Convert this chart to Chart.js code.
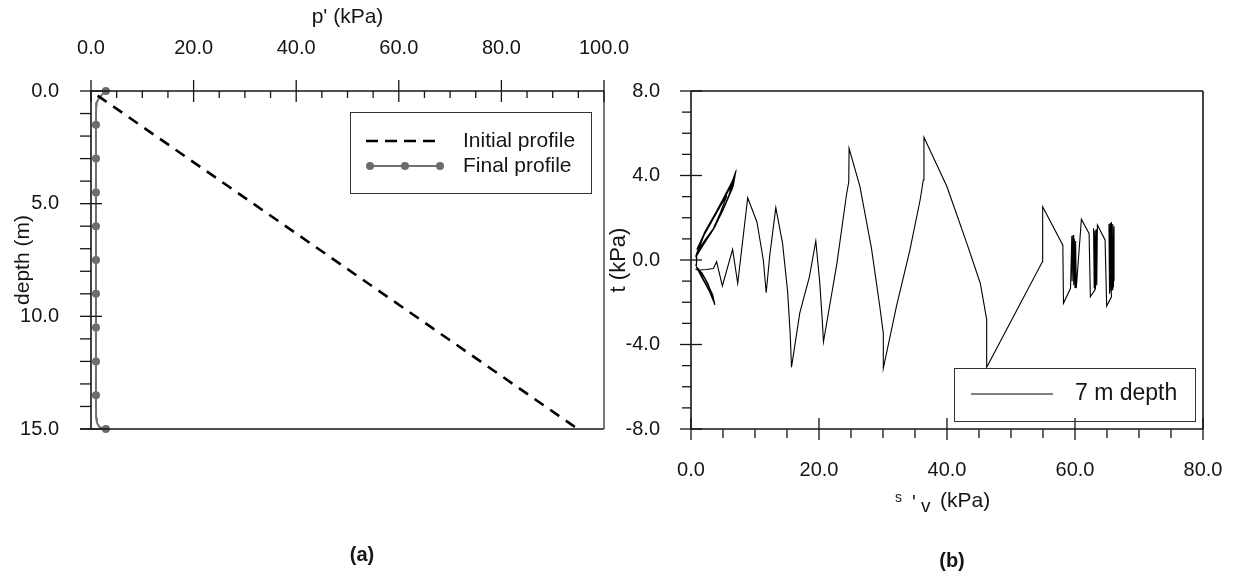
<!DOCTYPE html>
<html><head><meta charset="utf-8">
<script src="https://cdn.jsdelivr.net/npm/chart.js@4.4.1/dist/chart.umd.min.js"></script>
<style>
html,body{margin:0;padding:0;background:#fff;}
#wrap{position:relative;width:1239px;height:581px;overflow:hidden;background:#fff;}
#c1{position:absolute;left:0;top:0;}
#c2{position:absolute;left:560px;top:0;}
</style></head><body>
<div id="wrap"><canvas id="c1" width="680" height="581"></canvas><canvas id="c2" width="700" height="581"></canvas></div>
<script>
// ---------- (a) profiles ----------
const pTicks = [0, 20, 40, 60, 80, 100];
const pTickLabels = ['0.0', '20.0', '40.0', '60.0', '80.0', '100.0'];
const depthTicks = [0, 5, 10, 15];
const depthTickLabels = ['0.0', '5.0', '10.0', '15.0'];

const initialDepth = [0, 15];
const initialP = [0, 94.9];

const finalLineDepth = [0, 0.15, 0.32, 0.5, 0.75, 1.2, 14.0, 14.5, 14.72, 14.9, 14.97, 15];
const finalLineP = [2.9, 2.2, 1.5, 1.15, 1.0, 0.97, 0.97, 1.0, 1.15, 1.6, 2.2, 2.9];
const finalMarkDepth = [0, 1.5, 3, 4.5, 6, 7.5, 9, 10.5, 12, 13.5, 15];
const finalMarkP = [2.9, 0.97, 0.97, 0.97, 0.97, 0.97, 0.97, 0.97, 0.97, 0.97, 2.9];

// ---------- (b) stress path at 7 m ----------
const sTicks = [0, 20, 40, 60, 80];
const sTickLabels = ['0.0', '20.0', '40.0', '60.0', '80.0'];
const tTicks = [-8, -4, 0, 4, 8];
const tTickLabels = ['-8.0', '-4.0', '0.0', '4.0', '8.0'];

const pathV = [
 0.9, 2.2, 3.5, 5.05, 6.36, 7.03, 6.6, 5.3, 3.75, 2.2, 1.0,
 2.1, 3.6, 5.1, 6.4, 6.95, 6.5, 5.2, 3.7, 2.1, 0.95,
 2.3, 3.7, 5.2, 6.3, 6.75, 6.3, 5.0, 3.5, 2.0, 0.95,
 2.2, 3.6, 4.9, 5.9, 6.4, 5.9, 4.7, 3.3, 1.9, 0.9,
 2.0, 3.3, 4.5, 5.6, 4.6, 3.2, 1.8, 0.9,
 0.85, 0.85,
 1.9, 2.9, 3.75, 3.4, 2.5, 1.5, 0.95,
 1.8, 2.7, 3.4, 3.0, 2.1, 1.1,
 2.0, 2.8, 3.2, 2.7, 1.7, 0.9,
 1.4, 2.4, 3.5, 4.0, 4.9, 6.5, 7.3, 8.86, 10.3, 11.3, 11.75, 12.3, 13.25,
 14.3, 15.1, 15.5, 15.7, 17.0, 18.5, 19.5, 20.1, 20.5, 20.7,
 22.8, 24.3, 24.65, 24.7, 26.4, 28.2, 29.5, 30.05, 30.05,
 32.1, 34.2, 35.8, 36.3, 36.4, 40.0, 43.1, 45.2, 46.2, 46.2,
 54.9, 54.95, 58.1, 58.2, 59.3,
 59.5, 59.55, 59.7, 59.8, 59.9, 60.0, 60.1, 60.2,
 61.0, 62.2, 62.4, 63.1,
 62.9, 63.0, 63.1, 63.2, 63.3, 63.4, 63.5,
 64.7, 64.95, 65.7,
 65.3, 65.4, 65.5, 65.6, 65.7, 65.8, 65.9, 66.0, 66.1, 66.1
];
const pathT = [
 0.5, 1.35, 1.95, 2.85, 3.65, 4.23, 3.5, 2.6, 1.6, 0.95, 0.4,
 1.3, 2.1, 2.95, 3.7, 4.1, 3.4, 2.5, 1.55, 0.85, 0.35,
 1.4, 2.15, 2.95, 3.55, 3.85, 3.3, 2.35, 1.45, 0.8, 0.3,
 1.3, 2.05, 2.75, 3.3, 3.6, 3.05, 2.2, 1.35, 0.75, 0.25,
 1.15, 1.85, 2.5, 3.05, 2.25, 1.3, 0.65, 0.2,
 0.0, -0.35,
 -0.95, -1.5, -2.13, -1.65, -1.05, -0.55, -0.35,
 -0.85, -1.35, -1.85, -1.4, -0.85, -0.4,
 -0.95, -1.4, -1.6, -1.15, -0.6, -0.45,
 -0.47, -0.45, -0.4, -0.08, -1.23, 0.5, -1.1, 2.95, 1.8, 0.0, -1.55, 0.2, 2.48,
 0.8, -1.5, -3.5, -5.08, -2.5, -0.8, 0.9, -1.0, -2.8, -3.87,
 -0.16, 3.1, 3.7, 5.29, 3.47, 0.55, -2.2, -3.47, -5.13,
 -2.2, 0.47, 2.84, 3.79, 5.81, 3.47, 0.79, -1.1, -2.81, -5.08,
 -0.08, 2.52, 0.7, -2.05, -1.34,
 1.15, -1.0, 1.18, -1.2, 1.0, -1.3, 0.9, -1.34,
 1.93, 1.26, -1.74, -1.42,
 1.5, -1.3, 1.4, -1.4, 1.45, -1.2, 1.66,
 0.95, -2.18, -1.74,
 1.7, -1.6, 1.75, -1.5, 1.8, -1.4, 1.7, -1.3, 1.6, -1.0
];

Chart.defaults.font.family = "'Liberation Sans', Arial, sans-serif";
Chart.defaults.color = '#151515';

const pts = (xs, ys) => xs.map((x, i) => ({x: x, y: ys[i]}));
const INK = '#151515';

function line(ctx, x1, y1, x2, y2) { ctx.beginPath(); ctx.moveTo(x1, y1); ctx.lineTo(x2, y2); ctx.stroke(); }

// ---------- chart (a) decorations ----------
const decoA = {
  id: 'decoA',
  afterDraw(chart) {
    const {ctx, chartArea: a, scales: {x, y}} = chart;
    ctx.save();
    ctx.strokeStyle = INK; ctx.lineWidth = 1.6; ctx.setLineDash([]);
    line(ctx, a.left, a.top, a.right, a.top);
    line(ctx, a.left, a.top, a.left, a.bottom);
    line(ctx, a.left - 11, a.bottom, a.right, a.bottom);
    ctx.strokeStyle = '#555';
    line(ctx, a.right, a.top, a.right, a.bottom);
    ctx.strokeStyle = INK; ctx.lineWidth = 1.3;
    for (let v = 0; v <= 100; v += 5) {
      const px = x.getPixelForValue(v);
      if (v % 20 === 0) line(ctx, px, a.top - 11, px, a.top + 11);
      else line(ctx, px, a.top, px, a.top + 7);
    }
    for (let d = 0; d <= 15; d += 1) {
      const py = y.getPixelForValue(d);
      if (d % 5 === 0) line(ctx, a.left - 11, py, a.left + 11, py);
      else line(ctx, a.left - 11, py, a.left, py);
    }
    // legend
    ctx.lineWidth = 1; ctx.strokeStyle = '#333';
    ctx.strokeRect(350.5, 112.5, 241, 81);
    ctx.strokeStyle = '#000'; ctx.lineWidth = 2.6; ctx.setLineDash([12, 7]);
    line(ctx, 366, 141, 436, 141);
    ctx.setLineDash([]);
    ctx.strokeStyle = '#707070'; ctx.lineWidth = 2;
    line(ctx, 368, 166, 441, 166);
    ctx.fillStyle = '#6b6b6b';
    [370, 405, 440].forEach(cx => { ctx.beginPath(); ctx.arc(cx, 166, 4, 0, Math.PI * 2); ctx.fill(); });
    ctx.fillStyle = INK; ctx.font = "21px 'Liberation Sans', Arial, sans-serif";
    ctx.textBaseline = 'middle'; ctx.textAlign = 'left';
    ctx.fillText('Initial profile', 463, 141);
    ctx.fillText('Final profile', 463, 166);
    // caption
    ctx.font = "bold 20px 'Liberation Sans', Arial, sans-serif"; ctx.textAlign = 'center';
    ctx.fillText('(a)', 362, 555);
    ctx.restore();
  }
};

new Chart(document.getElementById('c1'), {
  type: 'scatter',
  data: {
    datasets: [
      {label: 'Initial profile', data: pts(initialP, initialDepth), showLine: true, borderColor: '#000',
       borderWidth: 2.6, borderDash: [11, 8], borderDashOffset: 11, pointRadius: 0, fill: false},
      {label: 'Final profile', data: pts(finalLineP, finalLineDepth), showLine: true, borderColor: '#707070',
       borderWidth: 2, pointRadius: 0, fill: false, tension: 0},
      {label: 'Final profile points', data: pts(finalMarkP, finalMarkDepth), showLine: false,
       pointRadius: 4, pointBackgroundColor: '#6b6b6b', pointBorderWidth: 0, clip: false}
    ]
  },
  options: {
    responsive: false, animation: false, events: [],
    layout: {padding: {left: 0, top: 0, right: 76, bottom: 152}},
    plugins: {legend: {display: false}, tooltip: {enabled: false}},
    scales: {
      x: {type: 'linear', position: 'top', min: 0, max: 100,
        grid: {display: false, drawTicks: false}, border: {display: false},
        afterBuildTicks: s => { s.ticks = pTicks.map(v => ({value: v})); },
        ticks: {padding: 31, autoSkip: false, maxRotation: 0, color: INK, font: {size: 20},
          callback: v => pTickLabels[pTicks.indexOf(v)]},
        title: {display: true, text: "p' (kPa)", color: INK, font: {size: 21}, padding: {top: 5, bottom: 0}},
        afterFit: s => { s.height = 91; }},
      y: {type: 'linear', reverse: true, min: 0, max: 15,
        grid: {display: false, drawTicks: false}, border: {display: false},
        afterBuildTicks: s => { s.ticks = depthTicks.map(v => ({value: v})); },
        ticks: {padding: 32, autoSkip: false, color: INK, font: {size: 20},
          callback: v => depthTickLabels[depthTicks.indexOf(v)]},
        title: {display: true, text: 'depth (m)', color: INK, font: {size: 21}, padding: {top: 11, bottom: 0}},
        afterFit: s => { s.width = 91; }}
    }
  },
  plugins: [decoA]
});

// ---------- chart (b) decorations ----------
const decoB = {
  id: 'decoB',
  afterDraw(chart) {
    const {ctx, chartArea: a, scales: {x, y}} = chart;
    ctx.save();
    ctx.strokeStyle = INK; ctx.lineWidth = 1.6; ctx.setLineDash([]);
    line(ctx, a.left, a.top, a.right, a.top);
    line(ctx, a.left, a.top, a.left, a.bottom);
    line(ctx, a.left, a.bottom, a.right, a.bottom);
    line(ctx, a.right, a.top, a.right, a.bottom);
    ctx.lineWidth = 1.3;
    for (let v = -8; v <= 8; v += 1) {
      const py = y.getPixelForValue(v);
      if (v % 4 === 0) line(ctx, a.left - 11, py, a.left + 11, py);
      else line(ctx, a.left - 9, py, a.left, py);
    }
    for (let v = 0; v <= 80; v += 5) {
      const px = x.getPixelForValue(v);
      if (v % 20 === 0) line(ctx, px, a.bottom - 11, px, a.bottom + 11);
      else line(ctx, px, a.bottom, px, a.bottom + 9);
    }
    // x-axis title with subscript
    ctx.fillStyle = INK; ctx.textAlign = 'left'; ctx.textBaseline = 'alphabetic';
    ctx.font = "14px 'Liberation Sans', Arial, sans-serif"; ctx.fillText('s', 335, 502);
    ctx.font = "20px 'Liberation Sans', Arial, sans-serif"; ctx.fillText("'", 352, 509);
    ctx.font = "19px 'Liberation Sans', Arial, sans-serif"; ctx.fillText('v', 361, 512);
    ctx.font = "21px 'Liberation Sans', Arial, sans-serif"; ctx.fillText('(kPa)', 380, 507);
    // legend
    ctx.lineWidth = 1; ctx.strokeStyle = '#333';
    ctx.strokeRect(394.5, 368.5, 241, 53);
    ctx.strokeStyle = '#000'; ctx.lineWidth = 1.2;
    line(ctx, 411, 394, 493, 394);
    ctx.fillStyle = INK; ctx.font = "23px 'Liberation Sans', Arial, sans-serif"; ctx.textBaseline = 'middle';
    ctx.fillText('7 m depth', 515, 394);
    // caption
    ctx.font = "bold 20px 'Liberation Sans', Arial, sans-serif"; ctx.textAlign = 'center';
    ctx.fillText('(b)', 392, 561);
    ctx.restore();
  }
};

new Chart(document.getElementById('c2'), {
  type: 'scatter',
  data: {
    datasets: [
      {label: '7 m depth', data: pts(pathV, pathT), showLine: true, borderColor: '#000',
       borderWidth: 1.1, pointRadius: 0, fill: false, tension: 0}
    ]
  },
  options: {
    responsive: false, animation: false, events: [],
    layout: {padding: {left: 0, top: 91, right: 57, bottom: 72}},
    plugins: {legend: {display: false}, tooltip: {enabled: false}},
    scales: {
      x: {type: 'linear', position: 'bottom', min: 0, max: 80,
        grid: {display: false, drawTicks: false}, border: {display: false},
        afterBuildTicks: s => { s.ticks = sTicks.map(v => ({value: v})); },
        ticks: {padding: 29, autoSkip: false, maxRotation: 0, color: INK, font: {size: 20},
          callback: v => sTickLabels[sTicks.indexOf(v)]},
        afterFit: s => { s.height = 80; }},
      y: {type: 'linear', min: -8, max: 8,
        grid: {display: false, drawTicks: false}, border: {display: false},
        afterBuildTicks: s => { s.ticks = tTicks.map(v => ({value: v})); },
        ticks: {padding: 31, autoSkip: false, color: INK, font: {size: 20},
          callback: v => tTickLabels[tTicks.indexOf(v)]},
        title: {display: true, text: 't (kPa)', color: INK, font: {size: 22}, padding: {top: 46, bottom: 0}},
        afterFit: s => { s.width = 131; }}
    }
  },
  plugins: [decoB]
});
</script>
</body></html>
